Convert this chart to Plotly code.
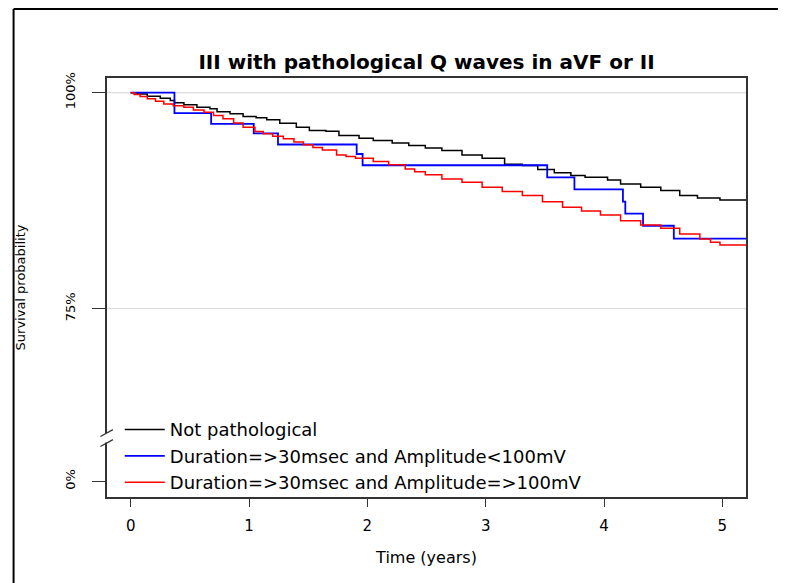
import plotly.graph_objects as go

# ---- data ----
t_not = [0, 0.06, 0.14, 0.25, 0.335, 0.37, 0.45, 0.56, 0.67, 0.73, 0.84, 0.95, 1.06, 1.15, 1.26,
         1.40, 1.51, 1.65, 1.76, 1.93, 2.05, 2.21, 2.35, 2.49, 2.63, 2.80, 2.97, 3.16, 3.31, 3.44,
         3.58, 3.72, 3.84, 4.03, 4.14, 4.31, 4.48, 4.64, 4.79, 4.98, 5.2]
s_not = [100, 99.85, 99.6, 99.35, 99.1, 98.83, 98.6, 98.32, 98.13, 97.8, 97.55, 97.24, 97.1, 96.86,
         96.47, 96.0, 95.62, 95.54, 95.04, 94.73, 94.46, 94.19, 93.88, 93.6, 93.3, 92.8, 92.4, 91.71,
         91.56, 91.1, 90.72, 90.4, 90.21, 89.9, 89.44, 89.05, 88.67, 88.09, 87.82, 87.59, 87.59]

t_low = [0, 0.37, 0.68, 1.04, 1.245, 1.91, 1.96, 3.52, 3.75, 4.16, 4.18, 4.33, 4.59, 5.2]
s_low = [100, 97.63, 96.4, 95.3, 94.0, 92.9, 91.6, 90.2, 88.8, 87.4, 86.0, 84.6, 83.1, 83.1]

t_high = [0, 0.03, 0.08, 0.14, 0.21, 0.28, 0.36, 0.45, 0.53, 0.62, 0.70, 0.78, 0.87, 0.95, 1.05,
          1.12, 1.20, 1.29, 1.38, 1.46, 1.54, 1.62, 1.74, 1.82, 1.90, 2.05, 2.18, 2.32, 2.40, 2.49,
          2.63, 2.80, 2.97, 3.14, 3.31, 3.48, 3.65, 3.81, 3.97, 4.14, 4.31, 4.48, 4.64, 4.81, 4.90,
          4.98, 5.2]
s_high = [100, 99.8, 99.55, 99.3, 99.0, 98.7, 98.5, 98.3, 98.0, 97.74, 97.35, 96.97, 96.5, 96.0,
          95.5, 95.24, 94.95, 94.66, 94.3, 93.96, 93.65, 93.38, 92.8, 92.6, 92.41, 92.03, 91.65,
          91.18, 90.85, 90.49, 90.02, 89.63, 89.05, 88.55, 88.09, 87.39, 86.73, 86.31, 85.85, 85.19,
          84.69, 84.3, 83.65, 83.07, 82.7, 82.38, 82.38]

names = ["Not pathological",
         "Duration=>30msec and Amplitude<100mV",
         "Duration=>30msec and Amplitude=>100mV"]
colors = ["#000000", "#0000FF", "#FF0000"]

x_ticks = [0, 1, 2, 3, 4, 5]
y_tickvals = [55, 75, 100]          # 0% drawn below the axis break
y_ticktext = ["0%", "75%", "100%"]
grid_vals = [75, 100]

FONT = "DejaVu Sans"
AX = "#333333"

fig = go.Figure()
for t, s, n, c, w in zip([t_not, t_low, t_high], [s_not, s_low, s_high], names, colors,
                         [1.5, 1.8, 1.5]):
    fig.add_trace(go.Scatter(x=t, y=s, mode="lines", name=n,
                             line=dict(color=c, width=w, shape="hv")))

shapes = []
for g in grid_vals:
    shapes.append(dict(type="line", xref="paper", yref="y", x0=0, x1=1, y0=g, y1=g,
                       line=dict(color="#d6d6d6", width=1), layer="below"))
# axis break
shapes.append(dict(type="rect", xref="paper", yref="y", x0=-0.004, x1=0.004, y0=59.5, y1=60.6,
                   line=dict(width=0), fillcolor="white", layer="above"))
for y0, y1 in [(60.2, 61.0), (59.04, 59.84)]:
    shapes.append(dict(type="line", xref="paper", yref="y", x0=-0.0103, x1=0.0093, y0=y0, y1=y1,
                       line=dict(color=AX, width=1.2), layer="above"))
# outer frame (top and left)
shapes.append(dict(type="line", xref="paper", yref="paper", x0=-0.1462, x1=1.07,
                   y0=1.1647, y1=1.1647, line=dict(color="#000", width=2)))
shapes.append(dict(type="line", xref="paper", yref="paper", x0=-0.1462, x1=-0.1462,
                   y0=1.1647, y1=-0.3, line=dict(color="#000", width=2)))

fig.update_layout(
    width=778, height=575,
    margin=dict(l=95, r=40, t=70, b=86),
    paper_bgcolor="white", plot_bgcolor="white",
    font=dict(family=FONT, color="#000", size=15),
    title=dict(text="<b>III with pathological Q waves in aVF or II</b>",
               x=0.5, xref="paper", xanchor="center",
               y=1 - 54 / 575, yanchor="middle",
               font=dict(family=FONT, size=20, color="#000")),
    xaxis=dict(range=[-0.2, 5.2], tickvals=x_ticks, ticks="outside", ticklen=8,
               tickcolor=AX, tickwidth=1.2, showline=True, linecolor=AX, linewidth=1.5,
               mirror=True, showgrid=False, zeroline=False, ticklabelstandoff=6,
               tickfont=dict(size=15),
               title=dict(text="Time (years)", font=dict(size=16), standoff=18)),
    yaxis=dict(range=[53.2, 101.7], tickvals=y_tickvals, ticktext=y_ticktext,
               tickangle=-90, ticks="outside", ticklen=13, tickcolor=AX, tickwidth=1.2,
               showline=True, linecolor=AX, linewidth=1.5, mirror=True,
               showgrid=False, zeroline=False, ticklabelstandoff=12,
               tickfont=dict(size=13),
               title=dict(text="Survival probability", font=dict(size=13), standoff=34)),
    legend=dict(x=0.02, xanchor="left", y=-0.01, yanchor="bottom",
                bgcolor="rgba(0,0,0,0)", borderwidth=0,
                font=dict(family=FONT, size=18, color="#000"),
                itemwidth=40),
    shapes=shapes,
)

fig.write_html("out.html")
